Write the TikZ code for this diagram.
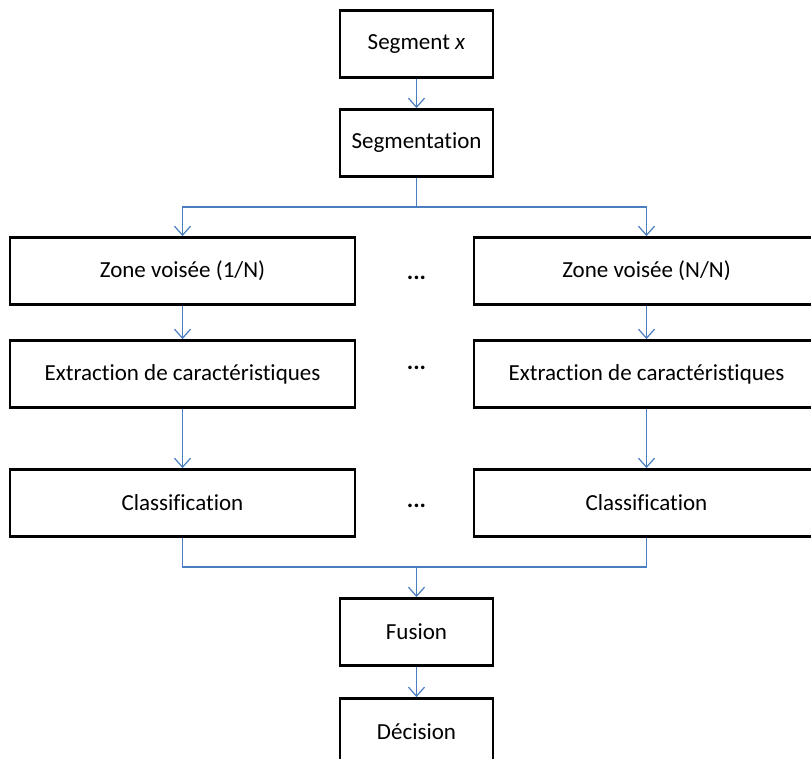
\documentclass[tikz,border=0pt]{standalone}
\usepackage{fontspec}
\setmainfont[Ligatures=NoCommon]{Carlito}
\usetikzlibrary{arrows.meta}
\begin{document}
\begin{tikzpicture}[x=1pt,y=-1pt,
  blk/.style={draw=black,line width=2.8pt,fill=white,inner sep=0pt,
    font=\fontsize{23}{26}\selectfont},
  mid/.style={blk,minimum width=153pt,minimum height=67pt},
  side/.style={blk,minimum width=345pt,minimum height=67pt},
  flow/.style={draw={rgb,255:red,74;green,126;blue,193},line width=1.2pt},
  tip/.style={-{Straight Barb[length=9pt,width=16pt,line width=1.2pt]}},
  dots/.style={font=\fontsize{24}{26}\selectfont\bfseries}]
\useasboundingbox (0,0) rectangle (811,758);
% centre column
\node[mid] (seg) at (416.5,44)  {Segment \textit{x}};
\node[mid] (sgm) at (416.5,143) {Segmentation};
\node[mid] (fus) at (416.5,632) {Fusion};
\node[mid] (dec) at (416.5,732) {Décision};
% left branch
\node[side] (zl) at (182.5,271) {Zone voisée (1/N)};
\node[side] (el) at (182.5,374) {Extraction de caractéristiques};
\node[side] (cl) at (182.5,503) {Classification};
% right branch
\node[side] (zr) at (646.5,271) {Zone voisée (N/N)};
\node[side] (er) at (646.5,374) {Extraction de caractéristiques};
\node[side] (cr) at (646.5,503) {Classification};
% ellipses between the branches
\node[dots] (d1) at (416.5,278) {...};
\node[dots] (d2) at (416.5,368) {...};
\node[dots] (d3) at (416.5,506) {...};
% split and merge points
\coordinate (split) at (416.5,207);
\coordinate (merge) at (416.5,567);
% connectors
\draw[flow,tip] (seg.south) -- (sgm.north);
\draw[flow] (sgm.south) -- (split);
\draw[flow,tip] (split) -| (zl.north);
\draw[flow,tip] (split) -| (zr.north);
\draw[flow,tip] (zl.south) -- (el.north);
\draw[flow,tip] (zr.south) -- (er.north);
\draw[flow,tip] (el.south) -- (cl.north);
\draw[flow,tip] (er.south) -- (cr.north);
\draw[flow] (cl.south) |- (merge);
\draw[flow] (cr.south) |- (merge);
\draw[flow,tip] (merge) -- (fus.north);
\draw[flow,tip] (fus.south) -- (dec.north);
\end{tikzpicture}
\end{document}
